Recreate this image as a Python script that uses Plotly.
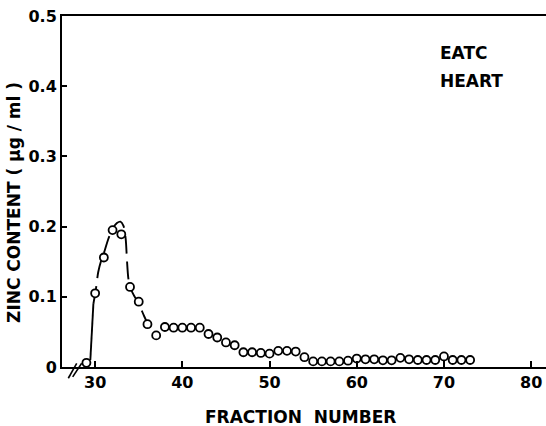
import plotly.graph_objects as go

# Zinc content of gel-filtration fractions (EATC, heart)
fractions = list(range(29, 74))
zinc = [
    0.006, 0.105, 0.156, 0.195, 0.189, 0.114, 0.093, 0.061, 0.045, 0.057,
    0.056, 0.056, 0.056, 0.056, 0.047, 0.042, 0.035, 0.031, 0.021, 0.021,
    0.020, 0.019, 0.023, 0.023, 0.022, 0.014, 0.008, 0.008, 0.008, 0.008,
    0.009, 0.012, 0.011, 0.011, 0.0095, 0.0095, 0.013, 0.011, 0.010, 0.010,
    0.010, 0.015, 0.010, 0.010, 0.010,
]

# hand-drawn profile through the main peak
peak_solid_x = [29.45, 29.6, 29.8]
peak_solid_y = [0.010, 0.050, 0.090]
peak_dash_x = [29.8, 30.1, 30.35, 30.7, 31.1, 31.5, 32.0, 32.5, 32.9, 33.25,
               33.5, 33.65, 33.8, 34.0, 34.4, 35.0, 35.6, 36.0]
peak_dash_y = [0.090, 0.112, 0.135, 0.152, 0.166, 0.182, 0.197, 0.205, 0.207, 0.201,
               0.183, 0.152, 0.127, 0.114, 0.103, 0.090, 0.073, 0.062]

x_ticks = [30, 40, 50, 60, 70, 80]
x_tick_text = ["30", "40", "50", "60", "70", "80"]
y_ticks = [0, 0.1, 0.2, 0.3, 0.4, 0.5]
y_tick_text = ["0", "0.1", "0.2", "0.3", "0.4", "0.5"]

FONT = "DejaVu Sans"
INK = "black"


def bold(s):
    return "<b>" + s + "</b>"


fig = go.Figure()

fig.add_trace(go.Scatter(
    x=peak_solid_x, y=peak_solid_y, mode="lines",
    line=dict(color=INK, width=1.9), hoverinfo="skip", showlegend=False,
))
fig.add_trace(go.Scatter(
    x=peak_dash_x, y=peak_dash_y, mode="lines",
    line=dict(color=INK, width=1.9, dash="18px,8px", shape="spline", smoothing=0.8),
    hoverinfo="skip", showlegend=False,
))
fig.add_trace(go.Scatter(
    x=fractions, y=zinc, mode="markers",
    marker=dict(symbol="circle", size=8, color="white",
                line=dict(color=INK, width=1.8)),
    showlegend=False,
))

# axis break mark "//" near the origin
for x0, y0, x1, y1 in [(0.013, -0.032, 0.0304, 0.0105),
                       (0.0221, -0.028, 0.0407, 0.0105)]:
    fig.add_shape(type="line", xref="paper", yref="paper",
                  x0=x0, y0=y0, x1=x1, y1=y1,
                  line=dict(color=INK, width=1.6))

fig.add_annotation(
    text=bold("ZINC CONTENT ( μg / ml )"), textangle=-90,
    xref="paper", yref="paper", x=-0.098, y=0.469,
    xanchor="center", yanchor="middle", showarrow=False,
    font=dict(family=FONT, size=17, color=INK),
)
fig.add_annotation(
    text=bold("FRACTION\u00a0\u00a0NUMBER"),
    xref="paper", yref="paper", x=0.493, y=-0.142,
    xanchor="center", yanchor="middle", showarrow=False,
    font=dict(family=FONT, size=17, color=INK),
)
for label, ypos in [("EATC", 0.894), ("HEART", 0.815)]:
    fig.add_annotation(
        text=bold(label), align="left",
        xref="paper", yref="paper", x=0.776, y=ypos,
        xanchor="left", yanchor="middle", showarrow=False,
        font=dict(family=FONT, size=17, color=INK),
    )

fig.update_xaxes(
    range=[26.2, 81.7], tickvals=x_ticks, ticktext=[bold(t) for t in x_tick_text],
    ticks="inside", ticklen=6,
    tickwidth=1.5, tickcolor=INK, showline=True, linecolor=INK, linewidth=2,
    mirror=True, showgrid=False, zeroline=False,
    tickfont=dict(family=FONT, size=16, color=INK),
)
fig.update_yaxes(
    range=[0, 0.5], tickvals=y_ticks, ticktext=[bold(t) for t in y_tick_text],
    ticks="inside", ticklen=5, tickwidth=1.5, tickcolor=INK, showline=True,
    linecolor=INK, linewidth=2, showgrid=False, zeroline=False,
    tickfont=dict(family=FONT, size=16, color=INK),
)

fig.update_layout(
    width=546, height=426,
    margin=dict(l=62, r=0, t=16, b=59),
    plot_bgcolor="white", paper_bgcolor="white",
    font=dict(family=FONT, color=INK),
)

fig.write_html("out.html")
